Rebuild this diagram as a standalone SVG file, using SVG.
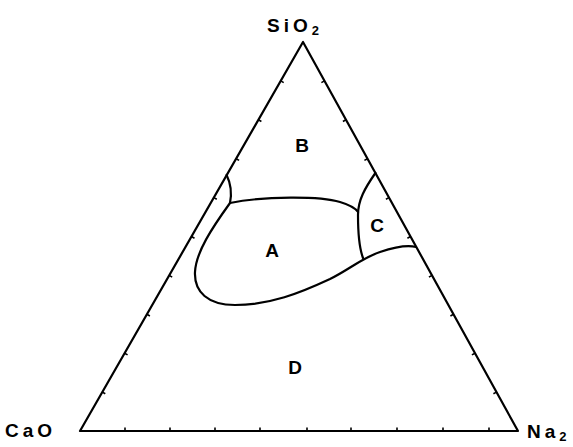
<svg xmlns="http://www.w3.org/2000/svg" width="573" height="447" viewBox="0 0 573 447">
<style>
.ln{fill:none;stroke:#000;stroke-width:2.2;stroke-linejoin:round;stroke-linecap:round}
.tk{fill:none;stroke:#000;stroke-width:1.6}
.lb{font-family:"Liberation Sans",Arial,sans-serif;font-weight:bold;font-size:19px;fill:#000;text-anchor:middle}
.vx{font-family:"Liberation Sans",Arial,sans-serif;font-weight:bold;font-size:19px;fill:#000;letter-spacing:4px}
.sb{font-size:13px;letter-spacing:0}
</style>
<rect width="573" height="447" fill="#fff"/>
<g id="triangle">
<path class="ln" d="M303,42 L80,431 L518,431 Z"/>
<path class="tk" d="M280.7,80.9 l3,1.7 M258.4,119.8 l3,1.7 M236.1,158.7 l3,1.7 M213.8,197.6 l3,1.7 M191.5,236.5 l3,1.7 M169.2,275.4 l3,1.7 M146.9,314.3 l3,1.7 M124.6,353.2 l3,1.7 M102.3,392.1 l3,1.7"/>
<path class="tk" d="M324.5,80.9 l-3.1,1.7 M346,119.8 l-3.1,1.7 M367.5,158.7 l-3.1,1.7 M389,197.6 l-3.1,1.7 M410.5,236.5 l-3.1,1.7 M432,275.4 l-3.1,1.7 M453.5,314.3 l-3.1,1.7 M475,353.2 l-3.1,1.7 M496.5,392.1 l-3.1,1.7"/>
<path class="tk" d="M125,431 v-3.5 M170,431 v-3.5 M215,431 v-3.5 M260,431 v-3.5 M307,431 v-3.5 M351,431 v-3.5 M397,431 v-3.5 M443,431 v-3.5 M489,431 v-3.5"/>
</g>
<g id="boundaries">
<path class="ln" d="M226.6,175 C231,184 232,193 230,203"/>
<path class="ln" d="M230,203 C265,196 320,196 340,202 C350,205 356,209 358,212"/>
<path class="ln" d="M375.4,173 C365,188 358,200 358,215 C358,235 360,250 363,258"/>
<path class="ln" d="M230,203 C212,228 196,252 195,272 C194,292 208,305 235,305 C270,305 300,293 330,279 C350,269 362,258 380,252 C395,247 408,245 416,247"/>
</g>
<g id="region-A"><text class="lb" x="272" y="257">A</text></g>
<g id="region-B"><text class="lb" x="302" y="152">B</text></g>
<g id="region-C"><text class="lb" x="377" y="232">C</text></g>
<g id="region-D"><text class="lb" x="295" y="374">D</text></g>
<g id="vertex-SiO2"><text class="vx" x="267" y="32">SiO<tspan class="sb" dy="3">2</tspan></text></g>
<g id="vertex-CaO"><text class="vx" x="5" y="437">CaO</text></g>
<g id="vertex-Na2"><text class="vx" x="527" y="438">Na<tspan class="sb" dy="3">2</tspan></text></g>
</svg>
